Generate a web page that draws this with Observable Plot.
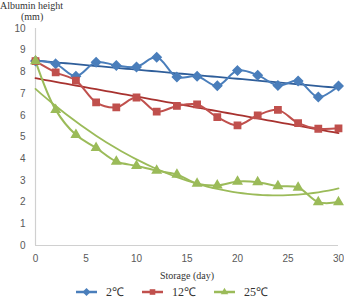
<!DOCTYPE html>
<html>
<head>
<meta charset="utf-8">
<script src="https://cdn.jsdelivr.net/npm/d3@7"></script>
<script src="https://cdn.jsdelivr.net/npm/@observablehq/plot@0.6"></script>
<style>
  body { margin: 0; background: #fff; }
  #wrap { position: relative; width: 344px; height: 300px; overflow: hidden; }
  .ylab { position: absolute; font-family: "Liberation Serif", serif; font-size: 10px; color: #333; white-space: nowrap; }
  #legend { position: absolute; top: 284px; left: 0; width: 344px; height: 15px; line-height: 14px; display: flex; justify-content: center; gap: 18px; font-family: "Liberation Serif", serif; font-size: 12px; color: #333; }
  .item { display: flex; align-items: center; gap: 9px; }
</style>
</head>
<body>
<div id="wrap">
  <div class="ylab" style="left:0px; top:0px;">Albumin height</div>
  <div class="ylab" style="left:21px; top:11px;">(mm)</div>
  <div id="chart"></div>
  <div id="legend"></div>
</div>
<script>
const days = [0, 2, 4, 6, 8, 10, 12, 14, 16, 18, 20, 22, 24, 26, 28, 30];
const t2 = [8.5, 8.37, 7.8, 8.45, 8.3, 8.23, 8.68, 7.76, 7.8, 7.36, 8.06, 7.85, 7.37, 7.58, 6.84, 7.35];
const t12 = [8.5, 7.98, 7.6, 6.6, 6.37, 6.82, 6.17, 6.43, 6.5, 5.92, 5.54, 6.0, 6.25, 5.64, 5.38, 5.4];
const t25 = [8.5, 6.25, 5.1, 4.5, 3.87, 3.67, 3.45, 3.27, 2.85, 2.77, 2.95, 2.92, 2.74, 2.67, 2.0, 2.0];
const seriesNames = ["2℃", "12℃", "25℃"];
const colors = ["#4A7EBB", "#C0504D", "#9BBB59"];
const trendColors = ["#2F5E9A", "#A8322F", "#9BBB59"];
const symbols = ["diamond2", "square2", "triangle2"];
const xTicks = [0, 5, 10, 15, 20, 25, 30];
const yTicks = [0, 1, 2, 3, 4, 5, 6, 7, 8, 9, 10];

const allSeries = [t2, t12, t25];
const data = [];
allSeries.forEach((vals, i) => vals.forEach((v, j) => data.push({day: days[j], value: v, series: seriesNames[i]})));

// least-squares polynomial fit (trendlines)
function polyfit(xs, ys, order) {
  const n = order + 1;
  const A = Array.from({length: n}, () => new Array(n + 1).fill(0));
  for (let r = 0; r < n; r++) {
    for (let c = 0; c < n; c++) A[r][c] = d3.sum(xs, x => Math.pow(x, r + c));
    A[r][n] = d3.sum(xs, (x, k) => ys[k] * Math.pow(x, r));
  }
  for (let i = 0; i < n; i++) {
    let p = i;
    for (let k = i + 1; k < n; k++) if (Math.abs(A[k][i]) > Math.abs(A[p][i])) p = k;
    [A[i], A[p]] = [A[p], A[i]];
    for (let k = i + 1; k < n; k++) {
      const f = A[k][i] / A[i][i];
      for (let c = i; c <= n; c++) A[k][c] -= f * A[i][c];
    }
  }
  const coef = new Array(n).fill(0);
  for (let i = n - 1; i >= 0; i--) {
    let s = A[i][n];
    for (let c = i + 1; c < n; c++) s -= A[i][c] * coef[c];
    coef[i] = s / A[i][i];
  }
  return x => coef.reduce((acc, c, k) => acc + c * Math.pow(x, k), 0);
}
const orders = [1, 1, 2];
const trend = [];
const xs = d3.range(days[0], days[days.length - 1] + 0.01, 0.5);
allSeries.forEach((vals, i) => {
  const f = polyfit(days, vals, orders[i]);
  xs.forEach(x => trend.push({day: x, value: f(x), series: seriesNames[i]}));
});

const chart = Plot.plot({
  width: 344,
  height: 283,
  marginLeft: 35,
  marginRight: 6,
  marginTop: 28,
  marginBottom: 38,
  style: {fontFamily: "'Liberation Sans', sans-serif", fontSize: "10px", color: "#595959", background: "transparent"},
  x: {domain: [0, 30], ticks: xTicks, tickSize: 0, tickPadding: 9, label: null},
  y: {domain: [0, 10], ticks: yTicks, tickSize: 0, tickPadding: 10, label: null},
  marks: [
    Plot.ruleX([0], {stroke: "#d0d0d0", strokeWidth: 1.2}),
    Plot.ruleY([0], {stroke: "#d0d0d0", strokeWidth: 1.2}),
    ...seriesNames.map((s, i) => Plot.line(trend.filter(d => d.series === s), {x: "day", y: "value", stroke: trendColors[i], strokeWidth: 1.8})),
    ...seriesNames.map((s, i) => Plot.line(data.filter(d => d.series === s), {x: "day", y: "value", stroke: colors[i], strokeWidth: 2, curve: "catmull-rom"})),
    ...seriesNames.map((s, i) => Plot.dot(data.filter(d => d.series === s), {x: "day", y: "value", fill: colors[i], stroke: colors[i], symbol: symbols[i], r: 4})),
    Plot.text(["Storage (day)"], {frameAnchor: "bottom", dy: 33, fontFamily: "'Liberation Serif', serif", fontSize: 10, fill: "#333"})
  ]
});
document.getElementById("chart").appendChild(chart);

// legend
const legend = d3.select("#legend");
seriesNames.forEach((s, i) => {
  const item = legend.append("div").attr("class", "item");
  const svg = item.append("svg").attr("width", 21).attr("height", 12);
  svg.append("line").attr("x1", 0).attr("x2", 21).attr("y1", 6).attr("y2", 6).attr("stroke", colors[i]).attr("stroke-width", 2.5);
  const symType = [d3.symbolDiamond2, d3.symbolSquare2, d3.symbolTriangle2][i];
  svg.append("path").attr("d", d3.symbol(symType, 40)()).attr("transform", "translate(10.5,6)").attr("fill", colors[i]);
  item.append("span").text(s);
});
</script>
</body>
</html>
